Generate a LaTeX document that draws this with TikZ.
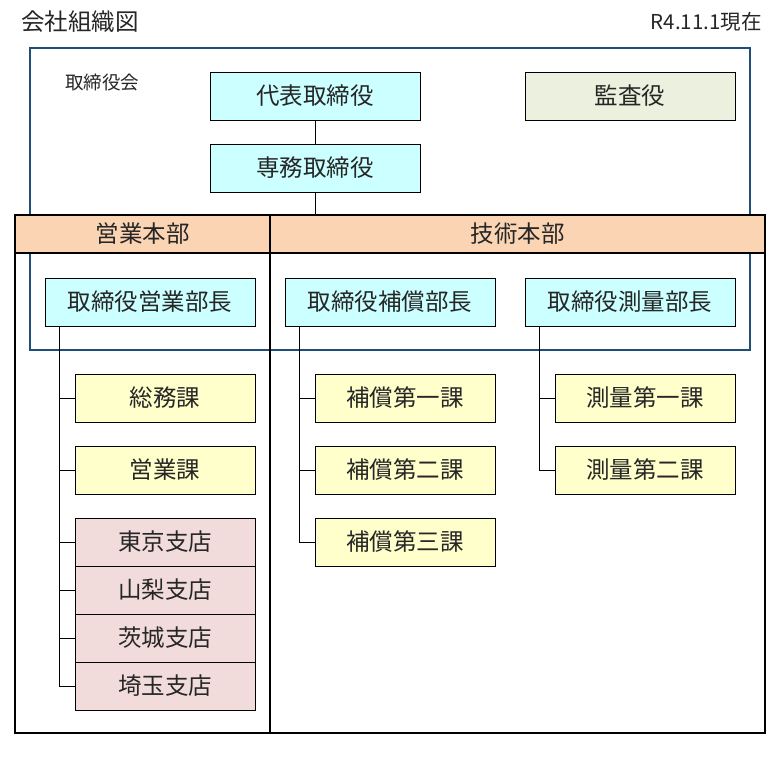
\documentclass[tikz,border=0pt]{standalone}
\usepackage{fontspec}
\setmainfont{Noto Sans CJK JP}
\usetikzlibrary{calc}
\definecolor{txt}{HTML}{262626}
\definecolor{cyanf}{HTML}{CCFFFF}
\definecolor{beigef}{HTML}{EBF1DE}
\definecolor{orangef}{HTML}{FBD4B4}
\definecolor{yellowf}{HTML}{FFFFCC}
\definecolor{pinkf}{HTML}{F2DCDB}
\definecolor{framebl}{HTML}{1F4E79}
\tikzset{
  box/.style={draw=black, line width=0.9pt, rectangle, inner sep=0pt, text=txt,
    font=\fontsize{23.5}{23.5}\selectfont},
  bigbox/.style={box, minimum width=210pt, minimum height=48pt},
  smallbox/.style={box, minimum width=180pt, minimum height=48pt},
  mgr/.style={bigbox, fill=cyanf},
  audit/.style={bigbox, fill=beigef},
  sect/.style={smallbox, fill=yellowf},
  branch/.style={smallbox, fill=pinkf},
  head/.style={draw=black, line width=2.2pt, rectangle, inner sep=0pt, fill=orangef,
    text=txt, minimum height=38pt, font=\fontsize{23.5}{23.5}\selectfont},
  conn/.style={draw=black, line width=0.9pt},
}
\begin{document}
\begin{tikzpicture}[x=1pt,y=-1pt]
\useasboundingbox (0,0) rectangle (781,759);
% titles
\node[anchor=west, text=txt, font=\fontsize{23.5}{23.5}\selectfont, inner sep=0pt] (title) at (21,22) {会社組織図};
\node[anchor=east, text=txt, font=\fontsize{20.5}{20.5}\selectfont, inner sep=0pt] (date) at (762,22) {R4.11.1現在};
% board frame
\node[draw=framebl, line width=2pt, rectangle, inner sep=0pt, minimum width=720pt, minimum height=302pt] (board) at (390,199) {};
\node[anchor=west, text=txt, font=\fontsize{18.5}{18.5}\selectfont, inner sep=0pt] (boardlbl) at (65,83) {取締役会};
% divisions
\node[head, minimum width=255pt] (salesh) at (142.5,234) {営業本部};
\node[head, minimum width=495pt] (techh) at (517.5,234) {技術本部};
\node[draw=black, line width=2.2pt, rectangle, inner sep=0pt, minimum width=255pt, minimum height=480pt] (salesb) at (142.5,493) {};
\node[draw=black, line width=2.2pt, rectangle, inner sep=0pt, minimum width=495pt, minimum height=480pt] (techb) at (517.5,493) {};
% executives
\node[mgr] (ceo) at (315,96) {代表取締役};
\node[audit] (audit) at (630,96) {監査役};
\node[mgr] (sen) at (315,168) {専務取締役};
\draw[conn] (ceo.south) -- (sen.south |- ceo.south) -- (sen.north);
\draw[conn] (sen.south) -- (sen.south |- salesh.north);
% managers
\node[mgr] (m1) at (150,302) {取締役営業部長};
\node[mgr] (m2) at (390,302) {取締役補償部長};
\node[mgr] (m3) at (630,302) {取締役測量部長};
% sales
\node[sect] (soumu) at (165,398) {総務課};
\node[sect] (eigyo) at (165,470) {営業課};
\node[branch] (tokyo) at (165,542) {東京支店};
\node[branch] (yamanashi) at (165,590) {山梨支店};
\node[branch] (ibaraki) at (165,638) {茨城支店};
\node[branch] (saitama) at (165,686) {埼玉支店};
\foreach \n in {soumu,eigyo,tokyo,yamanashi,ibaraki,saitama}
  \draw[conn] ([xshift=15pt]m1.south west) |- (\n.west);
% compensation
\node[sect] (h1) at (405,398) {補償第一課};
\node[sect] (h2) at (405,470) {補償第二課};
\node[sect] (h3) at (405,542) {補償第三課};
\foreach \n in {h1,h2,h3}
  \draw[conn] ([xshift=15pt]m2.south west) |- (\n.west);
% survey
\node[sect] (s1) at (645,398) {測量第一課};
\node[sect] (s2) at (645,470) {測量第二課};
\foreach \n in {s1,s2}
  \draw[conn] ([xshift=15pt]m3.south west) |- (\n.west);
\end{tikzpicture}
\end{document}
